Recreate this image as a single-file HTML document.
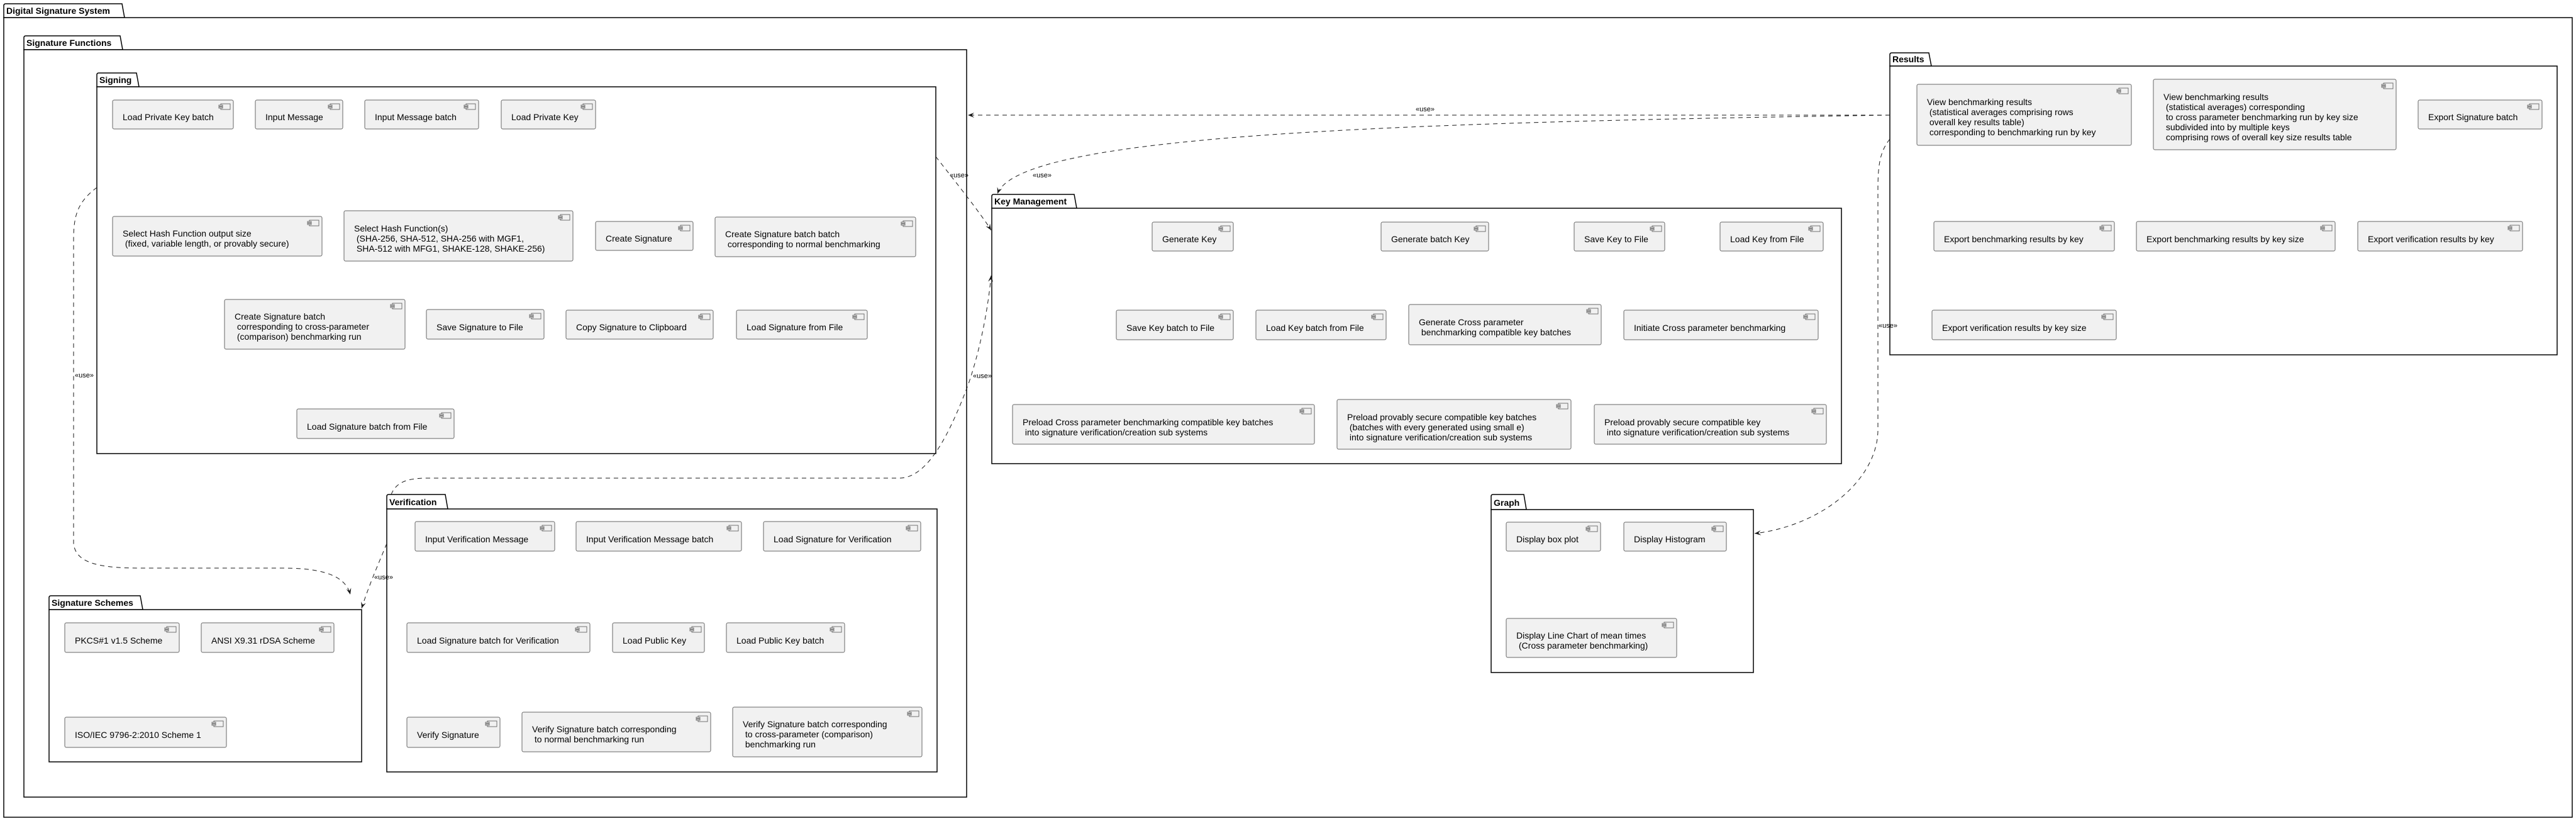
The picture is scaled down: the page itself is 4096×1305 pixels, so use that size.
<!DOCTYPE html>
<html><head><meta charset="utf-8"><style>
html,body{margin:0;padding:0;background:#fff;}
svg{display:block;}
text{font-family:"Liberation Sans",sans-serif;font-size:14px;fill:#000;white-space:pre;}
.t{font-weight:bold;}
.u{font-size:11px;}
.pk{fill:#fff;stroke:#000;stroke-width:1.5;}
.c{fill:#f1f1f1;stroke:#666;stroke-width:1;}
.ic{fill:#f1f1f1;stroke:#555;stroke-width:.8;}
.d{fill:none;stroke:#181818;stroke-width:1;stroke-dasharray:7,6;}
</style></head><body>
<svg width="4096" height="1305" viewBox="0 0 4096 1305" xmlns="http://www.w3.org/2000/svg">
<defs>
<marker id="ar" markerWidth="12" markerHeight="10" refX="0" refY="0" viewBox="-11 -5 12 10" orient="auto" markerUnits="userSpaceOnUse">
<path d="M0,0 L-10,-4 L-6,0 L-10,4 Z" fill="#181818"/>
</marker>
<g id="ic"><rect class="ic" x="3" y="0" width="15" height="9"/><rect class="ic" x="0" y="2" width="6" height="2"/><rect class="ic" x="0" y="5" width="6" height="2"/></g>
</defs>

<!-- Packages -->
<path class="pk" d="M6,28 V9 Q6,6 9,6 H194 L198,28 Z"/><rect class="pk" x="6" y="28" width="4084" height="1271"/><text class="t" x="10" y="22">Digital Signature System</text>
<path class="pk" d="M38,79 V60 Q38,57 41,57 H191 L195,79 Z"/><rect class="pk" x="38" y="79" width="1499" height="1188"/><text class="t" x="42" y="73">Signature Functions</text>
<path class="pk" d="M154,138 V119 Q154,116 157,116 H217 L221,138 Z"/><rect class="pk" x="154" y="138" width="1334" height="583"/><text class="t" x="158" y="132">Signing</text>
<path class="pk" d="M78,969 V950 Q78,947 81,947 H223 L227,969 Z"/><rect class="pk" x="78" y="969" width="497" height="242"/><text class="t" x="82" y="963">Signature Schemes</text>
<path class="pk" d="M615,809 V789 Q615,786 618,786 H708 L712,809 Z"/><rect class="pk" x="615" y="809" width="875" height="418"/><text class="t" x="619" y="803">Verification</text>
<path class="pk" d="M1577,331 V312 Q1577,309 1580,309 H1708 L1712,331 Z"/><rect class="pk" x="1577" y="331" width="1351" height="406"/><text class="t" x="1581" y="325">Key Management</text>
<path class="pk" d="M3005,105 V87 Q3005,84 3008,84 H3067 L3071,105 Z"/><rect class="pk" x="3005" y="105" width="1061" height="459"/><text class="t" x="3009" y="99">Results</text>
<path class="pk" d="M2371,810 V789 Q2371,786 2374,786 H2423 L2427,810 Z"/><rect class="pk" x="2371" y="810" width="417" height="259"/><text class="t" x="2375" y="804">Graph</text>

<!-- Signing components -->
<rect class="c" x="179" y="159" width="192" height="46" rx="2.5"/><use href="#ic" x="348" y="165"/><text x="195" y="191">Load Private Key batch</text>
<rect class="c" x="406" y="159" width="139" height="46" rx="2.5"/><use href="#ic" x="522" y="165"/><text x="422" y="191">Input Message</text>
<rect class="c" x="580" y="159" width="181" height="46" rx="2.5"/><use href="#ic" x="738" y="165"/><text x="596" y="191">Input Message batch</text>
<rect class="c" x="797" y="159" width="150" height="46" rx="2.5"/><use href="#ic" x="924" y="165"/><text x="813" y="191">Load Private Key</text>
<rect class="c" x="179" y="344" width="333" height="63" rx="2.5"/><use href="#ic" x="489" y="350"/><text x="195" y="376">Select Hash Function output size</text><text x="195" y="392"> (fixed, variable length, or provably secure)</text>
<rect class="c" x="547" y="335" width="364" height="80" rx="2.5"/><use href="#ic" x="888" y="341"/><text x="563" y="368">Select Hash Function(s)</text><text x="563" y="384"> (SHA-256, SHA-512, SHA-256 with MGF1,</text><text x="563" y="400"> SHA-512 with MFG1, SHAKE-128, SHAKE-256)</text>
<rect class="c" x="947" y="352" width="155" height="46" rx="2.5"/><use href="#ic" x="1079" y="358"/><text x="963" y="384">Create Signature</text>
<rect class="c" x="1137" y="345" width="319" height="63" rx="2.5"/><use href="#ic" x="1433" y="351"/><text x="1153" y="377">Create Signature batch batch</text><text x="1153" y="393"> corresponding to normal benchmarking</text>
<rect class="c" x="357" y="476" width="287" height="79" rx="2.5"/><use href="#ic" x="621" y="482"/><text x="373" y="508">Create Signature batch</text><text x="373" y="524"> corresponding to cross-parameter</text><text x="373" y="540"> (comparison) benchmarking run</text>
<rect class="c" x="678" y="492" width="187" height="47" rx="2.5"/><use href="#ic" x="842" y="498"/><text x="694" y="525">Save Signature to File</text>
<rect class="c" x="900" y="493" width="234" height="46" rx="2.5"/><use href="#ic" x="1111" y="499"/><text x="916" y="525">Copy Signature to Clipboard</text>
<rect class="c" x="1171" y="493" width="208" height="46" rx="2.5"/><use href="#ic" x="1356" y="499"/><text x="1187" y="525">Load Signature from File</text>
<rect class="c" x="472" y="650" width="250" height="47" rx="2.5"/><use href="#ic" x="699" y="656"/><text x="488" y="683">Load Signature batch from File</text>

<!-- Schemes -->
<rect class="c" x="103" y="990" width="182" height="47" rx="2.5"/><use href="#ic" x="262" y="996"/><text x="119" y="1023">PKCS#1 v1.5 Scheme</text>
<rect class="c" x="320" y="990" width="211" height="47" rx="2.5"/><use href="#ic" x="508" y="996"/><text x="336" y="1023">ANSI X9.31 rDSA Scheme</text>
<rect class="c" x="103" y="1140" width="257" height="48" rx="2.5"/><use href="#ic" x="337" y="1146"/><text x="119" y="1173">ISO/IEC 9796-2:2010 Scheme 1</text>

<!-- Verification -->
<rect class="c" x="660" y="829" width="222" height="47" rx="2.5"/><use href="#ic" x="859" y="835"/><text x="676" y="862">Input Verification Message</text>
<rect class="c" x="916" y="829" width="263" height="47" rx="2.5"/><use href="#ic" x="1156" y="835"/><text x="932" y="862">Input Verification Message batch</text>
<rect class="c" x="1214" y="829" width="250" height="47" rx="2.5"/><use href="#ic" x="1441" y="835"/><text x="1230" y="862">Load Signature for Verification</text>
<rect class="c" x="647" y="990" width="291" height="47" rx="2.5"/><use href="#ic" x="915" y="996"/><text x="663" y="1023">Load Signature batch for Verification</text>
<rect class="c" x="974" y="990" width="146" height="47" rx="2.5"/><use href="#ic" x="1097" y="996"/><text x="990" y="1023">Load Public Key</text>
<rect class="c" x="1155" y="990" width="188" height="47" rx="2.5"/><use href="#ic" x="1320" y="996"/><text x="1171" y="1023">Load Public Key batch</text>
<rect class="c" x="647" y="1140" width="148" height="48" rx="2.5"/><use href="#ic" x="772" y="1146"/><text x="663" y="1173">Verify Signature</text>
<rect class="c" x="830" y="1132" width="300" height="63" rx="2.5"/><use href="#ic" x="1107" y="1138"/><text x="846" y="1164">Verify Signature batch corresponding</text><text x="846" y="1180"> to normal benchmarking run</text>
<rect class="c" x="1165" y="1124" width="301" height="79" rx="2.5"/><use href="#ic" x="1443" y="1130"/><text x="1181" y="1156">Verify Signature batch corresponding</text><text x="1181" y="1172"> to cross-parameter (comparison)</text><text x="1181" y="1188"> benchmarking run</text>

<!-- Key Management -->
<rect class="c" x="1832" y="353" width="129" height="46" rx="2.5"/><use href="#ic" x="1938" y="359"/><text x="1848" y="385">Generate Key</text>
<rect class="c" x="2196" y="353" width="171" height="46" rx="2.5"/><use href="#ic" x="2344" y="359"/><text x="2212" y="385">Generate batch Key</text>
<rect class="c" x="2503" y="353" width="144" height="46" rx="2.5"/><use href="#ic" x="2624" y="359"/><text x="2519" y="385">Save Key to File</text>
<rect class="c" x="2735" y="353" width="164" height="46" rx="2.5"/><use href="#ic" x="2876" y="359"/><text x="2751" y="385">Load Key from File</text>
<rect class="c" x="1775" y="493" width="186" height="47" rx="2.5"/><use href="#ic" x="1938" y="499"/><text x="1791" y="526">Save Key batch to File</text>
<rect class="c" x="1997" y="493" width="207" height="47" rx="2.5"/><use href="#ic" x="2181" y="499"/><text x="2013" y="526">Load Key batch from File</text>
<rect class="c" x="2240" y="484" width="306" height="64" rx="2.5"/><use href="#ic" x="2523" y="490"/><text x="2256" y="517">Generate Cross parameter</text><text x="2256" y="533"> benchmarking compatible key batches</text>
<rect class="c" x="2582" y="493" width="309" height="47" rx="2.5"/><use href="#ic" x="2868" y="499"/><text x="2598" y="526">Initiate Cross parameter benchmarking</text>
<rect class="c" x="1610" y="643" width="480" height="63" rx="2.5"/><use href="#ic" x="2067" y="649"/><text x="1626" y="676">Preload Cross parameter benchmarking compatible key batches</text><text x="1626" y="692"> into signature verification/creation sub systems</text>
<rect class="c" x="2126" y="635" width="372" height="79" rx="2.5"/><use href="#ic" x="2475" y="641"/><text x="2142" y="668">Preload provably secure compatible key batches</text><text x="2142" y="684"> (batches with every generated using small e)</text><text x="2142" y="700"> into signature verification/creation sub systems</text>
<rect class="c" x="2535" y="643" width="369" height="63" rx="2.5"/><use href="#ic" x="2881" y="649"/><text x="2551" y="676">Preload provably secure compatible key</text><text x="2551" y="692"> into signature verification/creation sub systems</text>

<!-- Results -->
<rect class="c" x="3048" y="134" width="341" height="97" rx="2.5"/><use href="#ic" x="3366" y="140"/><text x="3064" y="167">View benchmarking results</text><text x="3064" y="183"> (statistical averages comprising rows</text><text x="3064" y="199"> overall key results table)</text><text x="3064" y="215"> corresponding to benchmarking run by key</text>
<rect class="c" x="3424" y="126" width="386" height="112" rx="2.5"/><use href="#ic" x="3787" y="132"/><text x="3440" y="159">View benchmarking results</text><text x="3440" y="175"> (statistical averages) corresponding</text><text x="3440" y="191"> to cross parameter benchmarking run by key size</text><text x="3440" y="207"> subdivided into by multiple keys</text><text x="3440" y="223"> comprising rows of overall key size results table</text>
<rect class="c" x="3845" y="159" width="197" height="46" rx="2.5"/><use href="#ic" x="4019" y="165"/><text x="3861" y="191">Export Signature batch</text>
<rect class="c" x="3075" y="352" width="287" height="47" rx="2.5"/><use href="#ic" x="3339" y="358"/><text x="3091" y="385">Export benchmarking results by key</text>
<rect class="c" x="3397" y="352" width="316" height="47" rx="2.5"/><use href="#ic" x="3690" y="358"/><text x="3413" y="385">Export benchmarking results by key size</text>
<rect class="c" x="3749" y="352" width="262" height="47" rx="2.5"/><use href="#ic" x="3988" y="358"/><text x="3765" y="385">Export verification results by key</text>
<rect class="c" x="3072" y="493" width="293" height="47" rx="2.5"/><use href="#ic" x="3342" y="499"/><text x="3088" y="526">Export verification results by key size</text>

<!-- Graph -->
<rect class="c" x="2395" y="830" width="150" height="46" rx="2.5"/><use href="#ic" x="2522" y="836"/><text x="2411" y="862">Display box plot</text>
<rect class="c" x="2582" y="830" width="163" height="46" rx="2.5"/><use href="#ic" x="2722" y="836"/><text x="2598" y="862">Display Histogram</text>
<rect class="c" x="2395" y="983" width="271" height="62" rx="2.5"/><use href="#ic" x="2643" y="989"/><text x="2411" y="1015">Display Line Chart of mean times</text><text x="2411" y="1031"> (Cross parameter benchmarking)</text>

<!-- Connectors -->
<path class="d" d="M3005,183 L1539,183" marker-end="url(#ar)"/>
<text class="u" x="2251" y="177">«use»</text>
<path class="d" d="M3005,183 C2200,195 1620,215 1586,308" marker-end="url(#ar)"/>
<text class="u" x="1642" y="282">«use»</text>
<path class="d" d="M1488,249 C1520,290 1560,340 1576,366" marker-end="url(#ar)"/>
<text class="u" x="1510" y="282">«use»</text>
<path class="d" d="M622,786 C630,766 648,760 680,760 L1430,760 C1475,760 1510,690 1540,610 C1562,545 1572,480 1576,438" marker-end="url(#ar)"/>
<text class="u" x="1547" y="601">«use»</text>
<path class="d" d="M154,298 C125,320 117,340 117,380 L117,864 C120,892 150,903 220,903 L450,903 C520,903 550,918 557,945" marker-end="url(#ar)"/>
<text class="u" x="119" y="600">«use»</text>
<path class="d" d="M615,864 C600,900 585,935 575,967" marker-end="url(#ar)"/>
<text class="u" x="595" y="921">«use»</text>
<path class="d" d="M3005,221 C2990,240 2986,260 2986,300 L2986,683 C2986,760 2900,835 2790,848" marker-end="url(#ar)"/>
<text class="u" x="2987" y="521">«use»</text>
</svg>
</body></html>
